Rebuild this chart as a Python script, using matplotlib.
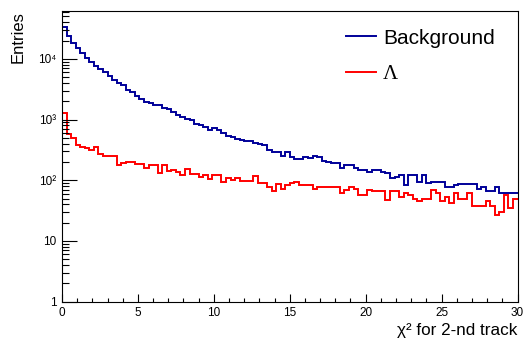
import numpy as np
import matplotlib
matplotlib.use("Agg")
import matplotlib.pyplot as plt
from matplotlib.ticker import FixedLocator, FixedFormatter, LogLocator, MultipleLocator, NullFormatter

# ── data (100 bins, 0..30) ───────────────────────────────────────────────────
bin_edges = np.linspace(0, 30, 101)

background = [
    33000, 24000, 18500, 15000, 12600, 10500, 9000, 7700, 6800, 6150,
    5300, 4480, 4050, 3720, 3090, 2810, 2450, 2150, 1970, 1850,
    1740, 1740, 1540, 1480, 1350, 1190, 1120, 1010, 985, 850,
    815, 745, 660, 720, 660, 595, 535, 510, 473, 460,
    445, 445, 407, 400, 382, 315, 296, 296, 251, 296,
    245, 222, 222, 245, 235, 250, 240, 205, 200, 195,
    191, 157, 178, 178, 157, 150, 145, 138, 147, 147,
    135, 131, 108, 115, 122, 84, 122, 122, 95, 122,
    89, 95, 95, 95, 78, 78, 84, 87, 87, 87,
    87, 71, 78, 67, 67, 78, 61, 61, 61, 62,
]

lambda_sig = [
    1260, 580, 490, 380, 357, 336, 316, 349, 272, 255,
    252, 252, 179, 195, 203, 203, 186, 186, 158, 179,
    179, 130, 176, 144, 148, 139, 122, 152, 127, 127,
    112, 122, 104, 122, 122, 95, 108, 100, 108, 98,
    98, 98, 118, 89, 89, 76, 67, 87, 71, 82,
    89, 95, 83, 83, 83, 72, 78, 78, 78, 78,
    76, 61, 69, 78, 72, 57, 57, 70, 66, 66,
    66, 47, 66, 66, 54, 61, 57, 50, 45, 50,
    50, 69, 61, 45, 53, 42, 61, 50, 50, 61,
    37, 37, 37, 45, 37, 27, 30, 57, 35, 50,
]

series_labels = ["Background", "\u039b"]
ytick_values = [1, 10, 100, 1000, 10000]
ytick_labels = ["1", "10", "10\u00b2", "10\u00b3", "10\u2074"]

BLUE = "#000099"
RED = "#ff0000"

plt.rcParams["font.family"] = ["Liberation Sans", "DejaVu Sans"]

fig = plt.figure(figsize=(5.24, 3.43), dpi=100)
ax = fig.add_axes([62 / 524, 41.3 / 343, 455.5 / 524, 291 / 343])

ax.stairs(background, bin_edges, color=BLUE, lw=1.4, baseline=None, label=series_labels[0])
ax.stairs(lambda_sig, bin_edges, color=RED, lw=1.4, baseline=None, label=series_labels[1])

ax.set_yscale("log")
ax.set_xlim(0, 30)
ax.set_ylim(1, 6.2e4)

# ROOT-like ticks: inside, left and bottom only
ax.yaxis.set_major_locator(FixedLocator(ytick_values))
ax.yaxis.set_major_formatter(FixedFormatter(ytick_labels))
ax.yaxis.set_minor_locator(LogLocator(base=10, subs=np.arange(2, 10)))
ax.yaxis.set_minor_formatter(NullFormatter())
ax.xaxis.set_major_locator(MultipleLocator(5))
ax.xaxis.set_minor_locator(MultipleLocator(1))

ax.tick_params(axis="y", which="major", direction="in", length=10.8, width=0.8,
               labelsize=8.5, pad=4)
ax.tick_params(axis="y", which="minor", direction="in", length=5, width=0.8)
ax.tick_params(axis="x", which="major", direction="in", length=6, width=0.8,
               labelsize=8.5, pad=4)
ax.tick_params(axis="x", which="minor", direction="in", length=3.2, width=0.8)
for s in ax.spines.values():
    s.set_linewidth(0.8)

ax.set_ylabel("Entries", fontsize=12, loc="top", labelpad=9)
ax.set_xlabel("\u03c7\u00b2 for 2-nd track", fontsize=12.3, loc="right", labelpad=3)

leg = ax.legend(loc="upper left", bbox_to_anchor=(0.6235, 0.938), frameon=False,
                fontsize=15, handlelength=1.44, handletextpad=0.34, labelspacing=0.8,
                borderpad=0, borderaxespad=0)
leg.get_texts()[1].set_fontfamily("Liberation Serif")
for h in leg.get_lines():
    h.set_linewidth(1.4)

fig.savefig("out.png", dpi=100)
